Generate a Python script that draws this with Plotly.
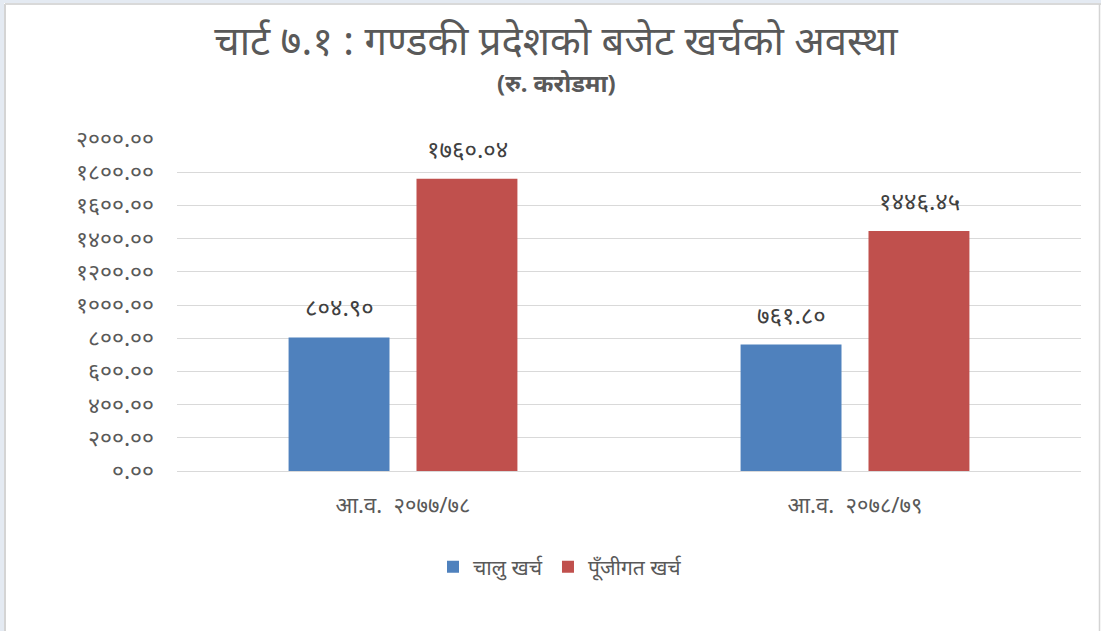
import plotly.graph_objects as go

categories = ["आ.व.  २०७७/७८", "आ.व.  २०७८/७९"]
series_names = ["चालु खर्च", "पूँजीगत खर्च"]
chalu_values = [804.90, 761.80]
punjigat_values = [1760.04, 1446.45]
chalu_labels = ["८०४.९०", "७६१.८०"]
punjigat_labels = ["१७६०.०४", "१४४६.४५"]
tick_values = [0, 200, 400, 600, 800, 1000, 1200, 1400, 1600, 1800, 2000]
tick_labels = ["०.००", "२००.००", "४००.००", "६००.००", "८००.००", "१०००.००",
               "१२००.००", "१४००.००", "१६००.००", "१८००.००", "२०००.००"]

BLUE = "#4F81BD"
RED = "#C0504D"
TXT = "#595959"
FONT = "Noto Sans, DejaVu Sans, sans-serif"

W, H = 1101, 631
ML, MR, MT, MB = 177, 20, 139, 160
PW, PH = W - ML - MR, H - MT - MB


def px(x):
    return (x - ML) / PW


def py(y):
    return (H - MB - y) / PH


fig = go.Figure()
fig.add_trace(go.Bar(x=categories, y=chalu_values, name=series_names[0],
                     marker=dict(color=BLUE, line=dict(width=0))))
fig.add_trace(go.Bar(x=categories, y=punjigat_values, name=series_names[1],
                     marker=dict(color=RED, line=dict(width=0))))

for cat, v, lab in zip(categories, chalu_values, chalu_labels):
    fig.add_annotation(x=cat, y=v, text=lab, showarrow=False, xshift=-64,
                       yanchor="bottom", yshift=12,
                       font=dict(size=24, color="#404040", family=FONT))
for cat, v, lab in zip(categories, punjigat_values, punjigat_labels):
    fig.add_annotation(x=cat, y=v, text=lab, showarrow=False, xshift=64,
                       yanchor="bottom", yshift=12,
                       font=dict(size=24, color="#404040", family=FONT))

fig.add_annotation(text="<b>(रु. करोडमा)</b>", xref="paper", yref="paper",
                   x=px(556), y=py(83), showarrow=False,
                   xanchor="center", yanchor="middle",
                   font=dict(size=24, color=TXT, family=FONT))

# window frame (light border as in the reference screenshot)
frame = [
    dict(type="rect", x0=px(0), x1=px(4), y0=py(H), y1=py(0),
         fillcolor="#E4EAF2", line=dict(width=0)),
    dict(type="rect", x0=px(0), x1=px(W), y0=py(3), y1=py(0),
         fillcolor="#E4EAF2", line=dict(width=0)),
    dict(type="line", x0=px(5), x1=px(5), y0=py(H), y1=py(4),
         line=dict(color="#D4D4D4", width=2)),
    dict(type="line", x0=px(5), x1=px(W), y0=py(4), y1=py(4),
         line=dict(color="#D9D9D9", width=2)),
    dict(type="line", x0=px(1099.5), x1=px(1099.5), y0=py(H), y1=py(4),
         line=dict(color="#D4D4D4", width=1.5)),
]
for s in frame:
    s.update(xref="paper", yref="paper", layer="above")
    fig.add_shape(**s)

fig.update_layout(
    width=W, height=H,
    paper_bgcolor="white", plot_bgcolor="white",
    margin=dict(l=ML, r=MR, t=MT, b=MB),
    title=dict(text="चार्ट ७.१ : गण्डकी प्रदेशको बजेट खर्चको अवस्था",
               x=0.505, xanchor="center", y=0.935, yanchor="middle",
               font=dict(size=40, color=TXT, family=FONT)),
    barmode="group", bargap=0.434, bargroupgap=0.211,
    showlegend=True,
    legend=dict(orientation="h", x=px(560), xanchor="center", y=py(567), yanchor="middle",
                font=dict(size=21, color=TXT, family=FONT), itemwidth=30,
                traceorder="normal"),
    xaxis=dict(showgrid=False, showline=True, linecolor="#D9D9D9", linewidth=1,
               ticks="", tickfont=dict(size=22, color=TXT, family=FONT),
               ticklabelstandoff=15),
    yaxis=dict(range=[0, 2000], tickvals=tick_values, ticktext=tick_labels,
               showgrid=True, gridcolor="#D9D9D9", gridwidth=1, zeroline=False,
               showline=False, ticks="",
               tickfont=dict(size=23, color=TXT, family=FONT),
               ticklabelstandoff=22),
)

fig.write_html("out.html", config={"displayModeBar": False},
               post_script="document.body.style.margin='0';document.body.style.overflow='hidden';")
